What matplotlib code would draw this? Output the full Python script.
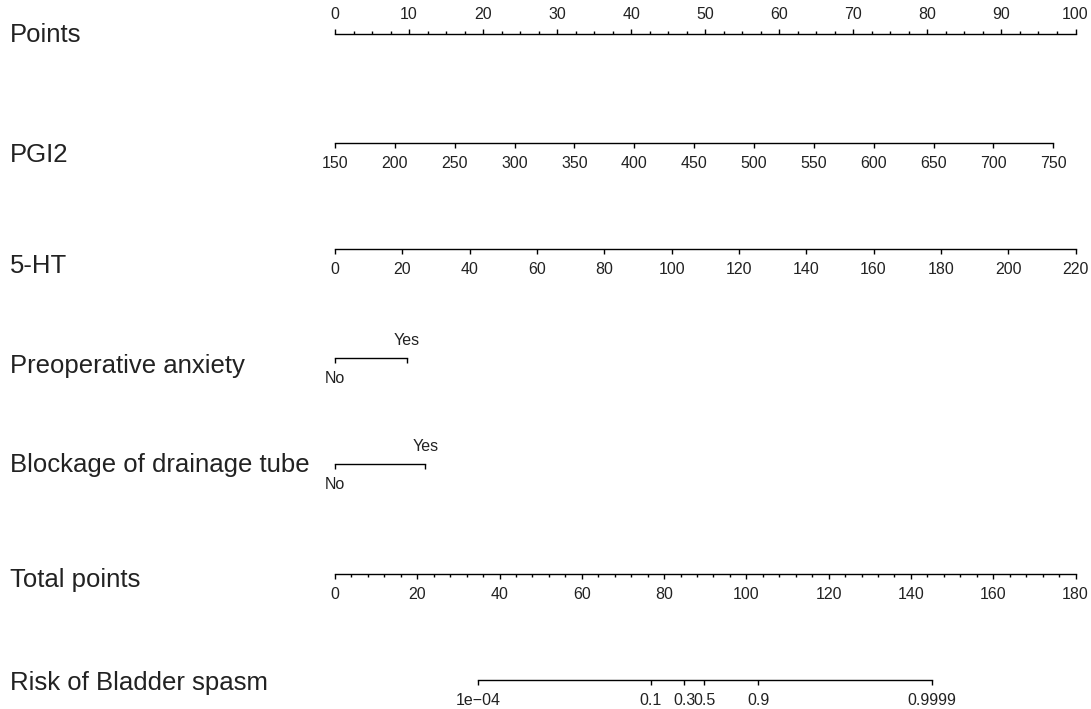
import numpy as np
import matplotlib
matplotlib.use('Agg')
from matplotlib import pyplot as plt

W, H = 1091, 709

row_names = ['Points', 'PGI2', '5-HT', 'Preoperative anxiety',
             'Blockage of drainage tube', 'Total points', 'Risk of Bladder spasm']

# nomogram data
points_ticks = np.arange(0, 101, 10)
points_minor = np.arange(0, 100.1, 2.5)

pgi2_ticks = np.arange(150, 751, 50)
pgi2_max_points = 97.0

ht5_ticks = np.arange(0, 221, 20)
ht5_max_points = 100.0

anxiety_levels = ['No', 'Yes']
anxiety_points = [0.0, 9.7]

blockage_levels = ['No', 'Yes']
blockage_points = [0.0, 12.2]

total_ticks = np.arange(0, 181, 20)
total_minor = np.arange(0, 181, 4)
total_max = 180

risk_labels = ['1e\u221204', '0.1', '0.3', '0.5', '0.9', '0.9999']
risk_total_points = [34.7, 76.8, 84.9, 89.8, 102.9, 145.0]

# layout in pixels
line_y = [34, 143, 249, 358, 464, 574, 680]
label_y = [42, 162, 273, 373, 472, 587, 690]
LEFT = 335 / W
WIDTH = 740.5 / W
TXT = '#222222'
TICK_FS = 11.5

plt.rcParams['font.family'] = ['Liberation Sans', 'DejaVu Sans']
fig = plt.figure(figsize=(W / 100, H / 100), dpi=100)


def row_axes(i, x0, x1):
    ax = fig.add_axes([LEFT, 1 - line_y[i] / H, WIDTH, 0.0005])
    ax.set_xlim(x0, x1)
    ax.set_ylim(0, 1)
    ax.patch.set_visible(False)
    for s in ax.spines.values():
        s.set_visible(False)
        s.set_linewidth(1.0)
    ax.set_yticks([])
    ax.tick_params(axis='x', which='major', length=3.6, width=1.0, pad=5.8,
                   labelsize=TICK_FS, labelcolor=TXT, direction='out')
    ax.tick_params(axis='x', which='minor', length=2.0, width=1.0, direction='out')
    return ax


def scale_row(i, lo, hi, max_pts, ticks, minor=None):
    ax = row_axes(i, lo, lo + (hi - lo) * 100.0 / max_pts)
    ax.spines['bottom'].set_visible(True)
    ax.spines['bottom'].set_bounds(lo, hi)
    ax.set_xticks(ticks, [f'{t:g}' for t in ticks])
    if minor is not None:
        ax.set_xticks(minor, minor=True)
    return ax


def factor_row(i, levels, pts):
    ax = row_axes(i, 0, 100)
    ax.spines['bottom'].set_visible(True)
    ax.spines['bottom'].set_bounds(pts[0], pts[-1])
    ax.set_xticks([pts[0]], [levels[0]])
    ax.set_xticks(pts[1:], levels[1:], minor=True)
    ax.tick_params(axis='x', which='minor', length=3.6, bottom=True, top=False,
                   labelbottom=False, labeltop=True, labelsize=TICK_FS,
                   labelcolor=TXT, pad=3.6)
    return ax


# Points
ax = row_axes(0, 0, 100)
ax.xaxis.tick_top()
ax.spines['top'].set_visible(True)
ax.spines['top'].set_bounds(0, 100)
ax.set_xticks(points_ticks, [f'{t:g}' for t in points_ticks])
ax.set_xticks(points_minor, minor=True)
ax.tick_params(axis='x', which='both', top=True, bottom=False)
ax.tick_params(axis='x', which='major', pad=4.8)

scale_row(1, pgi2_ticks[0], pgi2_ticks[-1], pgi2_max_points, pgi2_ticks)
scale_row(2, ht5_ticks[0], ht5_ticks[-1], ht5_max_points, ht5_ticks)
factor_row(3, anxiety_levels, anxiety_points)
factor_row(4, blockage_levels, blockage_points)

ax = row_axes(5, 0, total_max)
ax.spines['bottom'].set_visible(True)
ax.spines['bottom'].set_bounds(0, total_max)
ax.set_xticks(total_ticks, [f'{t:g}' for t in total_ticks])
ax.set_xticks(total_minor, minor=True)

ax = row_axes(6, 0, total_max)
ax.spines['bottom'].set_visible(True)
ax.spines['bottom'].set_bounds(risk_total_points[0], risk_total_points[-1])
ax.set_xticks(risk_total_points, risk_labels)

for name, yb in zip(row_names, label_y):
    fig.text(10 / W, 1 - yb / H, name, fontsize=18.5, color=TXT,
             ha='left', va='baseline')

fig.savefig('out.png', dpi=100, facecolor='white')
